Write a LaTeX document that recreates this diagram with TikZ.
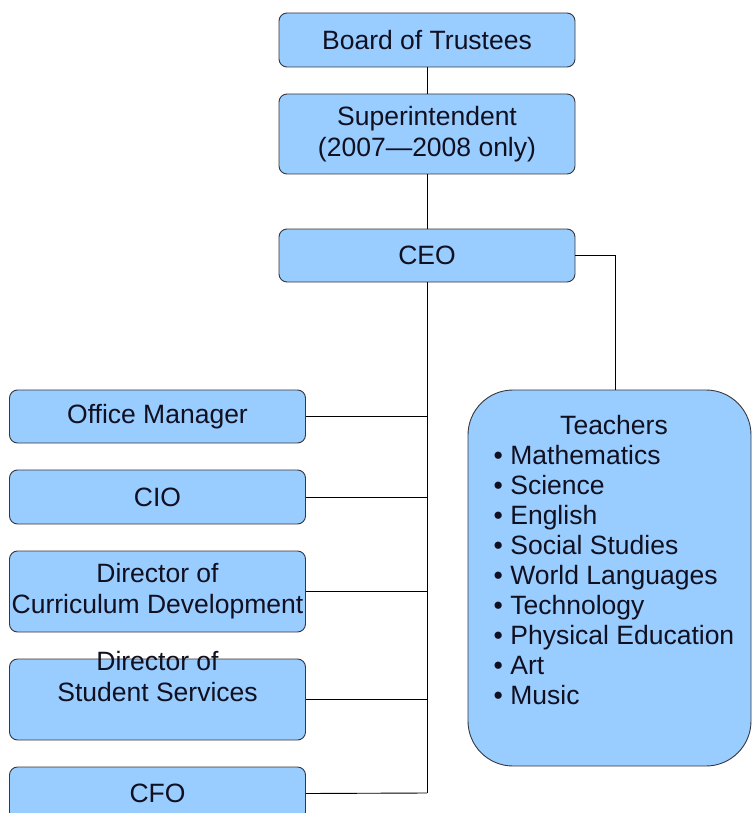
\documentclass[tikz,border=0pt]{standalone}
\usepackage{fontspec}
\setmainfont{Liberation Sans}

\definecolor{boxblue}{RGB}{153,204,255}
\definecolor{edgegray}{RGB}{55,55,60}
\definecolor{inktext}{RGB}{16,16,32}

\tikzset{
  orgbox/.style={draw=edgegray, fill=boxblue, rounded corners=8pt, line width=0.9pt,
                 minimum width=296pt, inner sep=0pt, align=center, text=inktext,
                 font=\fontsize{26.5}{31}\selectfont},
  link/.style={draw=black, line width=0.9pt}
}

\begin{document}
\begin{tikzpicture}[x=1pt,y=-1pt]
            \useasboundingbox (0,0) rectangle (753,813);
            \clip (0,0) rectangle (753,813);
            \fill[white] (0,0) rectangle (753,813);
            % top chain
            \node[orgbox, minimum height=54pt] (board) at (427,40) {Board of Trustees};
            \node[orgbox, minimum height=80pt] (super) at (427,134) {Superintendent\\(2007—2008 only)};
            \node[orgbox, minimum height=53pt] (ceo) at (427,255.5) {CEO};
            % staff on the left
            \node[orgbox, minimum height=53pt] (office) at (157.5,416.5) {Office Manager};
            \node[orgbox, minimum height=54pt] (cio) at (157.5,497) {CIO};
            \node[orgbox, minimum height=81pt] (curric) at (157.5,591.5) {Director of\\Curriculum Development};
            \node[orgbox, minimum height=81pt] (studserv) at (157.5,699.5) {\raisebox{13pt}[0pt][0pt]{\begin{tabular}{@{}c@{}}Director of\\Student Services\end{tabular}}};
            \node[orgbox, minimum height=53pt] (cfo) at (157.5,793.5) {CFO};
            % teachers
            \node[orgbox, minimum width=283pt, minimum height=376pt, rounded corners=45pt] (teachers) at (609.5,578) {};
            \node[anchor=north, inner sep=0pt, text=inktext, font=\fontsize{26.5}{30}\selectfont] (teachlist) at (614,413)
                {\begin{tabular}{@{}l@{}}
                  \multicolumn{1}{c}{Teachers}\\
                  \textbullet\ Mathematics\\
                  \textbullet\ Science\\
                  \textbullet\ English\\
                  \textbullet\ Social Studies\\
                  \textbullet\ World Languages\\
                  \textbullet\ Technology\\
                  \textbullet\ Physical Education\\
                  \textbullet\ Art\\
                  \textbullet\ Music
                 \end{tabular}};
            % connectors
            \coordinate (spine) at (427,793);
            \coordinate (tdrop) at (615,390);
            \draw[link] (board.south) -- (super.north);
            \draw[link] (super.south) -- (ceo.north);
            \draw[link] (ceo.south) -- (spine);
            \draw[link] (office.east) -- (office.east -| spine);
            \draw[link] (cio.east) -- (cio.east -| spine);
            \draw[link] (curric.east) -- (curric.east -| spine);
            \draw[link] (studserv.east) -- (studserv.east -| spine);
            \draw[link] (cfo.east) -- (spine);
            \draw[link] (ceo.east) -| (tdrop);
\end{tikzpicture}
\end{document}
